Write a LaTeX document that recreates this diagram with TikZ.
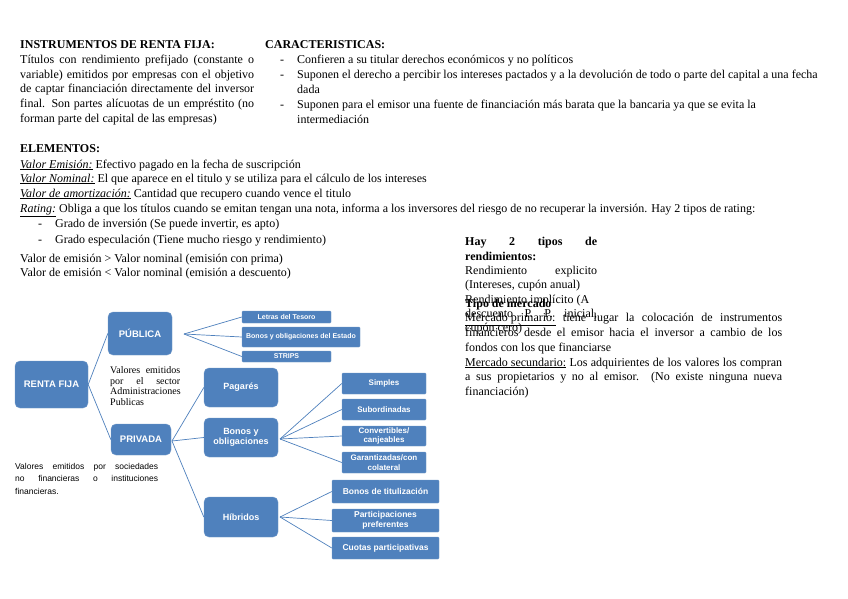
\documentclass[tikz,border=0pt]{standalone}
\usepackage{fontspec}
\setmainfont{Liberation Serif}
\newfontfamily\arialf{Liberation Sans}
\definecolor{boxblue}{HTML}{4F81BD}
\newcommand{\jl}[2]{\makebox[#1][s]{#2}}
\begin{document}
\begin{tikzpicture}[x=1pt,y=-1pt,
  txt/.style={anchor=base west, inner sep=0pt, font=\fontsize{12}{14}\selectfont},
  vtxt/.style={anchor=base west, inner sep=0pt, font=\fontsize{10}{11}\selectfont},
  stxt/.style={anchor=base west, inner sep=0pt, font=\arialf\fontsize{8.5}{10}\selectfont},
  bx/.style={fill=boxblue, draw=boxblue!80!white, line width=0.4pt, rounded corners=5pt, text=white, align=center, inner sep=0pt, font=\arialf\bfseries\fontsize{9.5}{11}\selectfont},
  mbx/.style={bx, font=\arialf\bfseries\fontsize{9}{10}\selectfont},
  sbx/.style={fill=boxblue, draw=boxblue!80!white, line width=0.4pt, rounded corners=1pt, text=white, align=center, inner sep=0pt, font=\arialf\bfseries\fontsize{7}{8}\selectfont},
  lbx/.style={sbx, font=\arialf\bfseries\fontsize{8}{9.5}\selectfont},
  hbx/.style={sbx, font=\arialf\bfseries\fontsize{8.5}{10}\selectfont},
  conn/.style={draw=boxblue, line width=0.7pt}
]
\fill[white] (0,0) rectangle (848,599);
\useasboundingbox (0,0) rectangle (848,599);

% ---- Instrumentos de renta fija
\node[txt] (a1) at (20,49) {\textbf{INSTRUMENTOS DE RENTA FIJA:}};
\node[txt] (a2) at (20,63.6) {\jl{234pt}{Títulos con rendimiento prefijado (constante o}};
\node[txt] (a3) at (20,78.2) {\jl{234pt}{variable) emitidos por empresas con el objetivo}};
\node[txt] (a4) at (20,92.8) {\jl{234pt}{de captar financiación directamente del inversor}};
\node[txt] (a5) at (20,107.4) {\jl{234pt}{final. Son partes alícuotas de un empréstito (no}};
\node[txt] (a6) at (20,122) {forman parte del capital de las empresas)};

% ---- Caracteristicas
\node[txt] (k1) at (265,49) {\textbf{CARACTERISTICAS:}};
\node[txt] (k2d) at (280,64) {-};
\node[txt] (k2) at (297,64) {Confieren a su titular derechos económicos y no políticos};
\node[txt] (k3d) at (280,79) {-};
\node[txt] (k3) at (297,79) {Suponen el derecho a percibir los intereses pactados y a la devolución de todo o parte del capital a una fecha};
\node[txt] (k4) at (297,94) {dada};
\node[txt] (k5d) at (280,109) {-};
\node[txt] (k5) at (297,109) {Suponen para el emisor una fuente de financiación más barata que la bancaria ya que se evita la};
\node[txt] (k6) at (297,124) {intermediación};

% ---- Elementos
\node[txt] (b1) at (20,152) {\textbf{ELEMENTOS:}};
\node[txt] (b2) at (20,168) {\underline{\textit{Valor Emisión:}} Efectivo pagado en la fecha de suscripción};
\node[txt] (b3) at (20,182) {\underline{\textit{Valor Nominal:}} El que aparece en el titulo y se utiliza para el cálculo de los intereses};
\node[txt] (b4) at (20,197) {\underline{\textit{Valor de amortización:}} Cantidad que recupero cuando vence el titulo};
\node[txt] (b5) at (20,212) {\underline{\textit{Rating:}} Obliga a que los títulos cuando se emitan tengan una nota, informa a los inversores del riesgo de no recuperar la inversión. Hay 2 tipos de rating:};
\node[txt] (b6d) at (38,227) {-};
\node[txt] (b6) at (55,227) {Grado de inversión (Se puede invertir, es apto)};
\node[txt] (b7d) at (38,243) {-};
\node[txt] (b7) at (55,243) {Grado especulación (Tiene mucho riesgo y rendimiento)};
\node[txt] (b8) at (20,262) {Valor de emisión > Valor nominal (emisión con prima)};
\node[txt] (b9) at (20,276) {Valor de emisión < Valor nominal (emisión a descuento)};

% ---- Rendimientos
\node[txt] (c1) at (465,245) {\jl{132pt}{\textbf{Hay 2 tipos de}}};
\node[txt] (c2) at (465,260) {\textbf{rendimientos:}};
\node[txt] (c3) at (465,274) {\jl{132pt}{Rendimiento explicito}};
\node[txt] (c4) at (465,288) {(Intereses, cupón anual)};
\node[txt] (c5) at (465,303) {Rendimiento implícito (A};
\node[txt] (c6) at (465,317) {\jl{132pt}{descuento P. P. inicial,}};
\node[txt] (c7) at (465,331) {cupón cero)};

% ---- Tipo de mercado
\node[txt] (d1) at (465,307) {\textbf{Tipo de mercado}};
\node[txt] (d2) at (465,321) {\jl{317pt}{\underline{Mercado primario:} tiene lugar la colocación de instrumentos}};
\node[txt] (d3) at (465,336) {\jl{317pt}{financieros desde el emisor hacia el inversor a cambio de los}};
\node[txt] (d4) at (465,351) {fondos con los que financiarse};
\node[txt] (d5) at (465,366) {\jl{317pt}{\underline{Mercado secundario:} Los adquirientes de los valores los compran}};
\node[txt] (d6) at (465,380) {\jl{317pt}{a sus propietarios y no al emisor. (No existe ninguna nueva}};
\node[txt] (d7) at (465,395) {financiación)};

% ---- Diagram boxes
\node[bx, minimum width=73pt, minimum height=47pt] (rf) at (51.5,384.5) {RENTA FIJA};
\node[bx, minimum width=64pt, minimum height=43pt] (pub) at (140,333.5) {PÚBLICA};
\node[bx, minimum width=60pt, minimum height=31pt] (priv) at (141,439.5) {PRIVADA};
\node[mbx, minimum width=74pt, minimum height=39pt] (pag) at (241,387.5) {Pagarés};
\node[mbx, minimum width=74pt, minimum height=39pt] (bon) at (241,437.5) {Bonos y\\obligaciones};
\node[mbx, minimum width=74pt, minimum height=40pt] (hib) at (241,517) {Híbridos};

\node[sbx, minimum width=89pt, minimum height=12pt] (let) at (286.5,317) {Letras del Tesoro};
\node[sbx, minimum width=118pt, minimum height=20pt] (bes) at (301,337) {Bonos y obligaciones del Estado};
\node[sbx, minimum width=89pt, minimum height=11pt] (str) at (286.5,356.5) {STRIPS};

\node[lbx, minimum width=84pt, minimum height=21pt] (sim) at (384,383.5) {Simples};
\node[lbx, minimum width=84pt, minimum height=21pt] (sub) at (384,409.5) {Subordinadas};
\node[lbx, minimum width=84pt, minimum height=20pt] (con) at (384,436) {Convertibles/\\canjeables};
\node[lbx, minimum width=84pt, minimum height=21pt] (gar) at (384,462.5) {Garantizadas/con\\colateral};

\node[hbx, minimum width=107pt, minimum height=23pt] (tit) at (385.5,491.5) {Bonos de titulización};
\node[hbx, minimum width=107pt, minimum height=23pt] (par) at (385.5,520.5) {Participaciones\\preferentes};
\node[hbx, minimum width=107pt, minimum height=22pt] (cuo) at (385.5,548) {Cuotas participativas};

% ---- Diagram captions
\node[vtxt] (e1) at (110,373) {\jl{70pt}{Valores emitidos}};
\node[vtxt] (e2) at (110,384) {\jl{70pt}{por el sector}};
\node[vtxt] (e3) at (110,394.5) {\jl{70pt}{Administraciones}};
\node[vtxt] (e4) at (110,405.5) {Publicas};

\node[stxt] (f1) at (15,469) {\jl{143pt}{Valores emitidos por sociedades}};
\node[stxt] (f2) at (15,481.5) {\jl{143pt}{no financieras o instituciones}};
\node[stxt] (f3) at (15,494) {financieras.};

% ---- Connectors
\draw[conn] (rf.east) -- (pub.west);
\draw[conn] (rf.east) -- (priv.west);

\coordinate (pubf) at (184,334);
\draw[conn] (pubf) -- (let.west);
\draw[conn] (pubf) -- (bes.west);
\draw[conn] (pubf) -- (str.west);

\coordinate (privf) at (172,441);
\draw[conn] (privf) -- (pag.west);
\draw[conn] (privf) -- (bon.west);
\draw[conn] (privf) -- (hib.west);

\coordinate (bonf) at (280,439);
\draw[conn] (bonf) -- (sim.west);
\draw[conn] (bonf) -- (sub.west);
\draw[conn] (bonf) -- (con.west);
\draw[conn] (bonf) -- (gar.west);

\coordinate (hibf) at (280,517);
\draw[conn] (hibf) -- (tit.west);
\draw[conn] (hibf) -- (par.west);
\draw[conn] (hibf) -- (cuo.west);
\end{tikzpicture}
\end{document}
